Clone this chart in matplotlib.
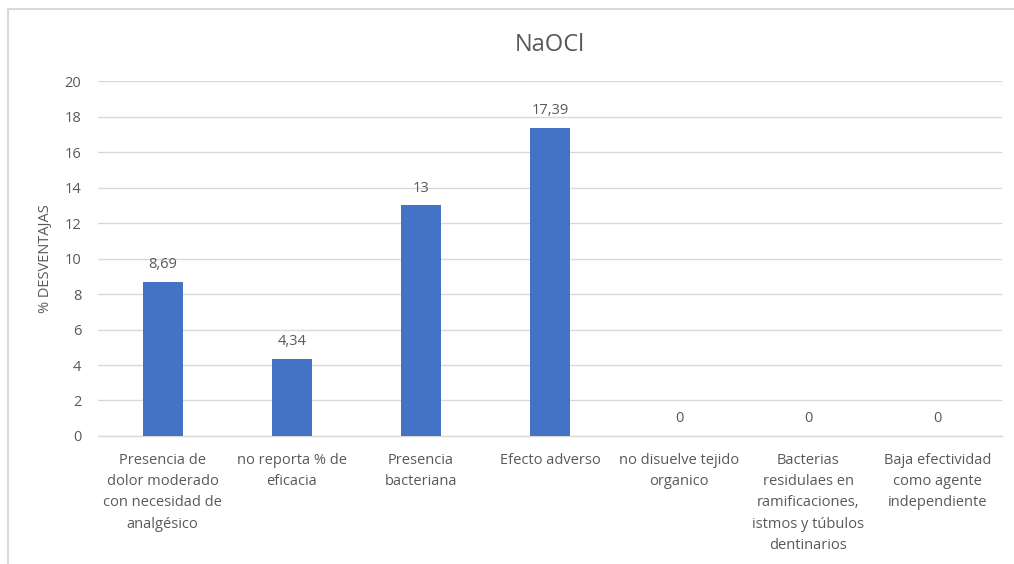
import matplotlib.pyplot as plt
from matplotlib.patches import Rectangle

categorias = [
    "Presencia de\ndolor moderado\ncon necesidad de\nanalgésico",
    "no reporta % de\neficacia",
    "Presencia\nbacteriana",
    "Efecto adverso",
    "no disuelve tejido\norganico",
    "Bacterias\nresidulaes en\nramificaciones,\nistmos y túbulos\ndentinarios",
    "Baja efectividad\ncomo agente\nindependiente",
]
valores = [8.69, 4.34, 13, 17.39, 0, 0, 0]
etiquetas = ["8,69", "4,34", "13", "17,39", "0", "0", "0"]

plt.rcParams['font.family'] = ['Open Sans', 'DejaVu Sans']
gris = '#595959'

fig = plt.figure(figsize=(10.14, 5.64), dpi=100)
ax = fig.add_axes([0.0966, 0.227, 0.8914, 0.629])

# marco del grafico
fig.patches.append(Rectangle((8 / 1014, -0.01), 1.0, (564 - 9) / 564 + 0.01,
                             transform=fig.transFigure, fill=False,
                             edgecolor='#D9D9D9', linewidth=1.5))

x = range(len(categorias))
barras = ax.bar(x, valores, width=0.31, color='#4472C4', zorder=3)
for xi, v, t in zip(x, valores, etiquetas):
    ax.text(xi, v + 0.55, t, ha='center', va='bottom', fontsize=10.5, color=gris)

ax.set_xlim(-0.5, len(categorias) - 0.5)
ax.set_ylim(0, 20)
ax.set_yticks(range(0, 21, 2))
ax.set_xticks(list(x))
ax.set_xticklabels(categorias, fontsize=10.5, color=gris, linespacing=1.58)
ax.tick_params(axis='y', labelsize=10.5, labelcolor=gris, length=0, pad=12)
ax.tick_params(axis='x', length=0, pad=12)
ax.grid(axis='y', color='#D9D9D9', linewidth=1, zorder=0)
for s in ['top', 'right', 'left']:
    ax.spines[s].set_visible(False)
ax.spines['bottom'].set_color('#D9D9D9')
ax.spines['bottom'].set_linewidth(1)
ax.set_ylabel('% DESVENTAJAS', fontsize=10.5, color=gris, labelpad=8)
ax.set_title('NaOCl', fontsize=17, color=gris, pad=22)

fig.savefig('out.png', dpi=100)
